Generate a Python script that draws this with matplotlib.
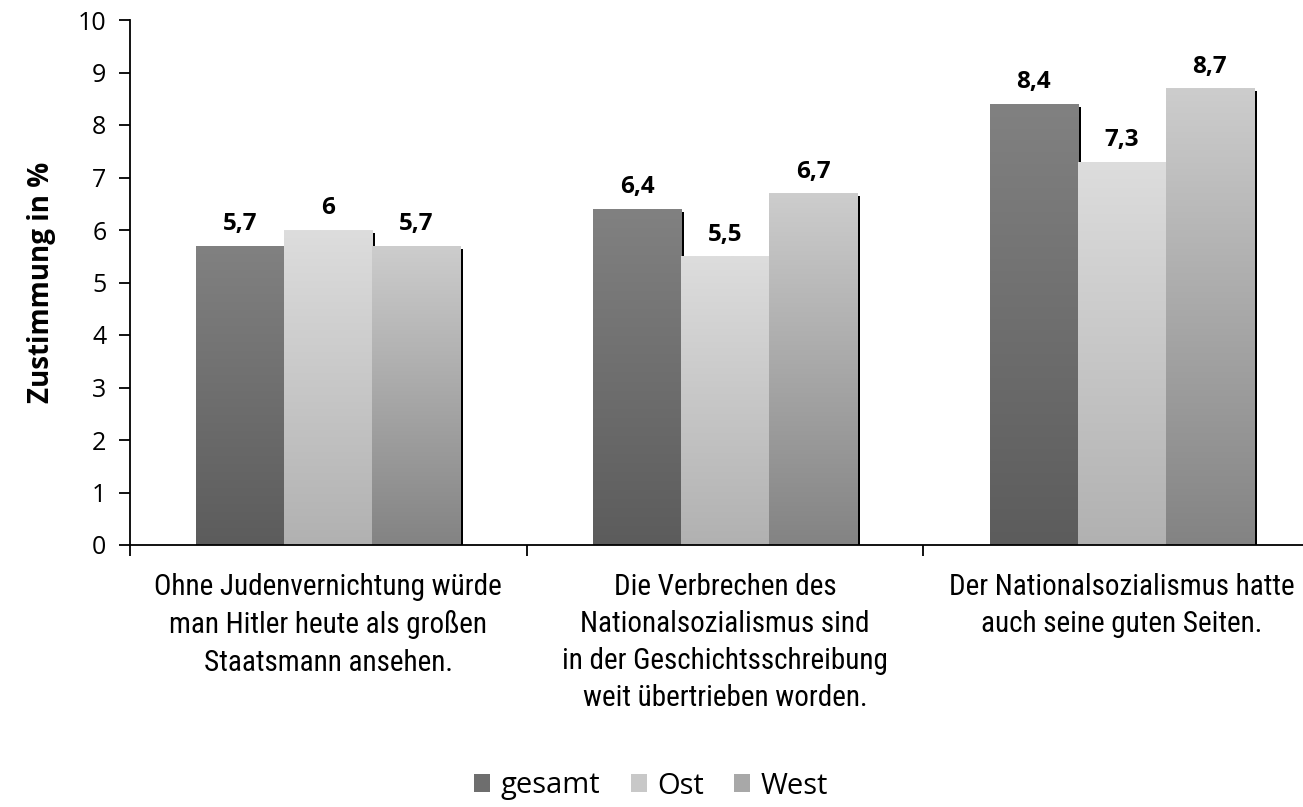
import matplotlib
matplotlib.use("Agg")
import matplotlib.pyplot as plt
import numpy as np
from matplotlib.colors import LinearSegmentedColormap
from matplotlib.patches import Rectangle, Patch
from matplotlib.transforms import ScaledTranslation
from matplotlib import font_manager

categories = ["Ohne Judenvernichtung würde\nman Hitler heute als großen\nStaatsmann ansehen.",
              "Die Verbrechen des\nNationalsozialismus sind\nin der Geschichtsschreibung\nweit übertrieben worden.",
              "Der Nationalsozialismus hatte\nauch seine guten Seiten."]
series = ["gesamt", "Ost", "West"]
gesamt = [5.7, 6.4, 8.4]
ost = [6.0, 5.5, 7.3]
west = [5.7, 6.7, 8.7]
value_labels = [["5,7", "6,4", "8,4"], ["6", "5,5", "7,3"], ["5,7", "6,7", "8,7"]]
yticks = list(range(0, 11))

# gradient colours (top, bottom)
grads = [("#818181", "#5c5c5c"), ("#dddddd", "#b1b1b1"), ("#cdcdcd", "#838383")]

# pick a condensed font for category labels if available
names = {(f.name, f.stretch) for f in font_manager.fontManager.ttflist}
fam_names = {n for n, _ in names}
cat_font = {"family": "Roboto", "stretch": "normal", "size": 19}
for cand in ["Roboto Condensed", "Liberation Sans Narrow", "Open Sans Condensed"]:
    if cand in fam_names:
        cat_font = {"family": cand, "stretch": "normal", "size": 21}
        break
else:
    for n, st in names:
        if n == "DejaVu Sans" and st == "condensed":
            cat_font = {"family": "DejaVu Sans", "stretch": "condensed", "size": 19}
            break

W, H, DPI = 1303, 807, 100
fig = plt.figure(figsize=(W / DPI, H / DPI), dpi=DPI)
ax = fig.add_axes([130 / W, (H - 545) / H, 1190 / W, 525 / H])

font_txt = "Open Sans"

width = 0.222
offsets = [-width, 0, width]
data = [gesamt, ost, west]
x = np.arange(len(categories))

shadow_tr = ax.transData + ScaledTranslation(3 / DPI, -3 / DPI, fig.dpi_scale_trans)

for si, vals in enumerate(data):
    ax.bar(x + offsets[si], vals, width, color="black", zorder=1, transform=shadow_tr, linewidth=0)

for si, vals in enumerate(data):
    top, bot = grads[si]
    cmap = LinearSegmentedColormap.from_list("g%d" % si, [bot, top])
    for ci, v in enumerate(vals):
        x0 = x[ci] + offsets[si] - width / 2
        rect = Rectangle((x0, 0), width, v, facecolor="none", edgecolor="none", zorder=2)
        ax.add_patch(rect)
        grad = np.linspace(1, 0, 256).reshape(-1, 1)
        im = ax.imshow(grad, extent=[x0, x0 + width, 0, v], aspect="auto", cmap=cmap,
                       vmin=0, vmax=1, zorder=2, interpolation="bilinear")
        im.set_clip_path(rect)
        ax.annotate(value_labels[si][ci], (x0 + width / 2, v), xytext=(0, 7),
                    textcoords="offset points", ha="center", va="bottom",
                    fontsize=17.5, fontweight="bold", family=font_txt, zorder=4)

ax.set_xlim(-0.5, 2.5)
ax.set_ylim(0, 10)
ax.set_aspect("auto")

ax.spines["top"].set_visible(False)
ax.spines["right"].set_visible(False)
for s in ("left", "bottom"):
    ax.spines[s].set_linewidth(1.3)
    ax.spines[s].set_zorder(3)

ax.set_yticks(yticks)
ax.set_yticklabels([str(t) for t in yticks], family=font_txt, fontsize=18)
ax.tick_params(axis="y", length=8, width=1.3, pad=9)

ax.set_xticks(x)
ax.set_xticklabels(categories, linespacing=1.42, **cat_font)
ax.tick_params(axis="x", which="major", length=0, pad=20)
ax.set_xticks([-0.5, 0.5, 1.5, 2.5], minor=True)
ax.tick_params(axis="x", which="minor", length=8, width=1.3, direction="out")

ax.set_ylabel("Zustimmung in %", family=font_txt, fontsize=20, fontweight="bold", labelpad=16)

handles = [Patch(facecolor=c, edgecolor="none") for c in ["#6e6e6e", "#c8c8c8", "#a8a8a8"]]
fig.legend(handles, series, loc="center", bbox_to_anchor=(651 / W, 1 - 786 / H), ncol=3,
           frameon=False, prop={"family": font_txt, "size": 21}, handlelength=0.55,
           handleheight=0.55, handletextpad=0.35, columnspacing=1.05)

fig.savefig("out.png", dpi=DPI)
